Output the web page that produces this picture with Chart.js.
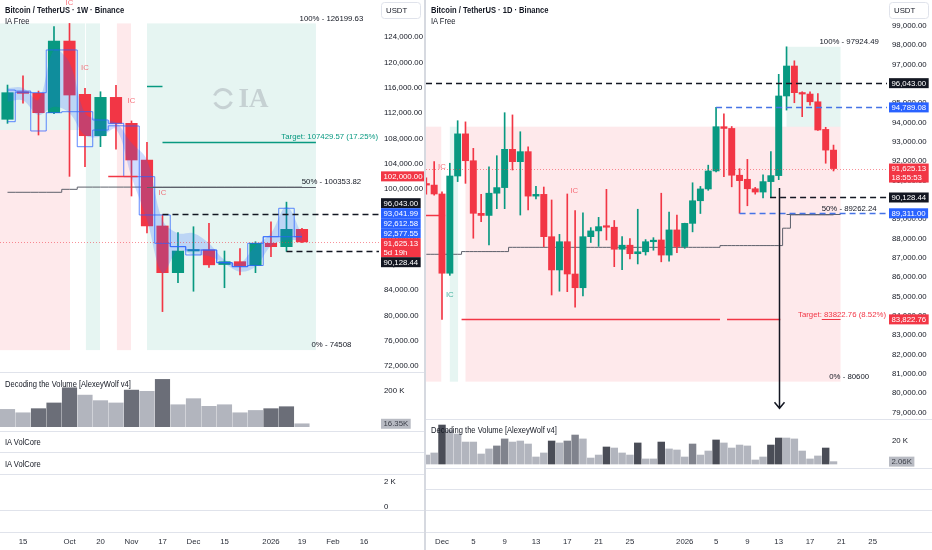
<!DOCTYPE html>
<html>
<head>
<meta charset="utf-8">
<title>BTCUSDT weekly / daily</title>
<script src="https://cdn.jsdelivr.net/npm/chart.js@4.4.1/dist/chart.umd.min.js"></script>
<style>
  body { margin: 0; width: 932px; height: 550px; background: #fff; position: relative; overflow: hidden;
         font-family: "Liberation Sans", Arial, sans-serif; color: #131722; }
  canvas { position: absolute; }
  .lbl { position: absolute; font-size: 9px; line-height: 11px; white-space: nowrap;
         transform: scaleX(0.84); transform-origin: left center; }
  .ttl { font-weight: bold; }
  .sep { position: absolute; height: 1px; background: #e0e3eb; }
</style>
</head>
<body>
<canvas id="wkMain" width="424" height="372" style="left:0px;top:0px"></canvas>
<canvas id="wkVol" width="424" height="59" style="left:0px;top:373px"></canvas>
<canvas id="wkCore" width="424" height="75" style="left:0px;top:475px"></canvas>
<canvas id="dyMain" width="506" height="419" style="left:426px;top:0px"></canvas>
<canvas id="dyVol" width="506" height="130" style="left:426px;top:420px"></canvas>

<div class="sep" style="left:0;top:372px;width:424px"></div>
<div class="sep" style="left:0;top:431px;width:424px"></div>
<div class="sep" style="left:0;top:452px;width:424px"></div>
<div class="sep" style="left:0;top:474px;width:424px"></div>
<div class="sep" style="left:0;top:510px;width:424px"></div>
<div class="sep" style="left:0;top:532px;width:424px"></div>
<div class="sep" style="left:426px;top:419px;width:506px"></div>
<div class="sep" style="left:426px;top:468px;width:506px"></div>
<div class="sep" style="left:426px;top:489px;width:506px"></div>
<div class="sep" style="left:426px;top:510px;width:506px"></div>
<div class="sep" style="left:426px;top:532px;width:506px"></div>
<div class="sep" style="left:424px;top:0;width:2px;height:550px;background:#d6d9e0"></div>

<div class="lbl ttl" style="left:5px;top:5px">Bitcoin / TetherUS · 1W · Binance</div>
<div class="lbl" style="left:5px;top:15.5px">IA Free</div>
<div class="lbl ttl" style="left:431px;top:5px">Bitcoin / TetherUS · 1D · Binance</div>
<div class="lbl" style="left:431px;top:15.5px">IA Free</div>
<div class="lbl" style="left:5px;top:378.5px">Decoding the Volume [AlexeyWolf v4]</div>
<div class="lbl" style="left:5px;top:436.5px">IA VolCore</div>
<div class="lbl" style="left:5px;top:458.5px">IA VolCore</div>
<div class="lbl" style="left:431px;top:424.5px">Decoding the Volume [AlexeyWolf v4]</div>

<script>
// ---- left panel: BTCUSDT weekly candles, week of Sep 8 2025 .. week of Jan 19 2026
const weeks = ['Sep 8','Sep 15','Sep 22','Sep 29','Oct 6','Oct 13','Oct 20','Oct 27','Nov 3','Nov 10',
  'Nov 17','Nov 24','Dec 1','Dec 8','Dec 15','Dec 22','Dec 29','Jan 5','Jan 12','Jan 19'];
const wOpen  = [111030,115240,115140,112070,123410,114980,108430,114500,110390,104590,94150,86760,90190,90350,88050,88500,87900,91410,90870,93620];
const wHigh  = [116450,117900,115500,125700,126199.63,115930,115390,116400,110770,107400,95880,93090,94030,94570,90190,90590,91660,94789,97924,93760];
const wLow   = [110390,113600,108540,111900,102000,103530,106700,106300,98890,93040,80600,85180,83822,87580,84380,86400,86760,89311,90128,91500];
const wClose = [115240,115140,112070,123410,114870,108430,114500,110390,104590,94150,86760,90190,90350,88000,88500,87820,91410,90870,93620,91625.13];
// IA channel band and box outline around the weekly candles
const wBandHi = [116000,116000,114100,122000,120000,112000,111000,110500,107300,104600,95100,93000,93000,91400,88800,88300,91000,93000,97200,92800];
const wBandLo = [113800,114000,111700,113000,112000,108500,108300,109500,101900,95100,86700,90300,89560,89400,88200,86900,87700,91000,91930,91800];
const wBoxTop = [115660,115500,115240,122000,122000,112230,110920,110390,109970,101950,95890,90880,90350,90350,88340,87710,91410,92450,96950,92450];
const wBoxBot = [110650,115300,109180,112070,112230,106690,109330,110000,101950,95890,91410,90880,89560,90350,88340,87710,87900,92450,92450,92450];
const wBase   = [99480,99480,99480,99480,99950,100300,100300,100300,100300,100300,100300,100300,100300,100300,100300,100300,100300,100300,100300,100300];
// volume in thousands, tone 0 = light, 1 = dark
const wVol     = [97,78,101,133,218,177,146,133,205,198,265,123,157,114,123,78,91,101,112,16.35];
const wVolTone = [0,0,1,1,1,0,0,0,1,0,1,0,0,0,0,0,0,1,1,0];
const wPriceTicks = [72000,76000,80000,84000,88000,92000,96000,100000,104000,108000,112000,116000,120000,124000,128000];
const wDateTickAt   = [1,4,6,8,10,12,14,17,19,21,23];
const wDateTickText = ['15','Oct','20','Nov','17','Dec','15','2026','19','Feb','16'];

// ---- right panel: BTCUSDT daily candles, Nov 29 2025 .. Jan 20 2026
const days = ['Nov 29','Nov 30','Dec 1','Dec 2','Dec 3','Dec 4','Dec 5','Dec 6','Dec 7','Dec 8','Dec 9','Dec 10',
  'Dec 11','Dec 12','Dec 13','Dec 14','Dec 15','Dec 16','Dec 17','Dec 18','Dec 19','Dec 20','Dec 21','Dec 22',
  'Dec 23','Dec 24','Dec 25','Dec 26','Dec 27','Dec 28','Dec 29','Dec 30','Dec 31','Jan 1','Jan 2','Jan 3',
  'Jan 4','Jan 5','Jan 6','Jan 7','Jan 8','Jan 9','Jan 10','Jan 11','Jan 12','Jan 13','Jan 14','Jan 15',
  'Jan 16','Jan 17','Jan 18','Jan 19','Jan 20'];
const dOpen  = [90850,90770,90310,86210,91240,93420,92030,89310,89200,90350,90640,92620,91980,92500,90200,90290,
  88100,86380,87840,86170,85460,88100,88400,88620,88590,87450,87660,87220,87320,87840,87930,87150,88450,87590,
  88790,89960,90570,91500,93790,93700,91280,91070,90580,90410,90950,91260,95380,96930,95550,95480,95080,93650,92580];
const dHigh  = [91150,91980,90420,91900,94100,94040,92670,90290,91720,92290,94515,94400,93530,92750,90700,90670,
  90000,88220,90310,89450,89340,88570,89100,90550,88940,88100,88000,89520,87950,88050,90350,89370,89220,88800,
  90890,90700,91800,94789,94450,93800,91620,92100,90650,91300,92500,96500,97924,97200,95600,95600,95500,93760,92840];
const dLow   = [90300,90250,83822,86100,90950,90860,88020,88880,87670,89550,89550,91550,89220,89480,90050,87580,
  85085,85280,85255,84450,85030,87800,87600,87930,86550,86400,86950,86690,87150,87400,86800,86830,87280,87500,
  88350,89300,90500,91450,91200,90680,89311,89700,90300,90100,90128,91050,94650,95030,94310,94900,93600,91900,91500];
const dClose = [90770,90310,86210,91240,93420,92030,89310,89200,90350,90640,92620,91980,92500,90200,90290,88100,
  86380,87840,86170,85460,88100,88400,88620,88590,87450,87660,87220,87320,87840,87920,87150,88450,87590,88790,
  89960,90570,91500,93790,93700,91280,91000,90580,90410,90950,91260,95380,96930,95550,95480,95080,93620,92580,91625.13];
const dBase  = [87190,87190,87190,87190,87190,87330,87330,87330,87330,87330,87330,87550,87550,87550,87550,87550,
  87550,87550,87550,87550,87550,87550,87550,87550,87550,87550,87550,87550,87550,87550,87550,87550,87550,87550,
  87550,87550,87550,87550,87640,87640,87640,87640,87640,87640,87640,87640,88540,89230,89230,89230,89230,89230,89230];
// volume in thousands, tone 0 = light, 1 = medium, 2 = dark
const dVol = [7.8,9.6,33.9,29.6,26.1,19.1,19.1,8.7,13.1,15.7,21.8,19.1,20.0,17.4,6.1,9.6,20.0,18.3,20.0,25.2,21.8,
  5.2,7.8,14.8,13.9,9.6,7.8,18.3,4.4,4.4,19.1,13.1,12.2,6.1,17.4,7.8,11.3,20.9,18.3,13.9,16.5,15.7,3.5,6.1,16.5,
  22.6,22.6,21.8,11.3,4.4,7.0,13.9,2.06];
const dVolTone = [0,0,2,0,0,0,0,0,0,1,1,0,0,0,0,0,2,0,1,1,0,0,0,2,0,0,0,2,0,0,2,0,0,0,1,0,0,2,0,0,0,0,0,0,2,2,0,0,0,0,0,2,0];
const dPriceTicks = [79000,80000,81000,82000,83000,84000,85000,86000,87000,88000,89000,90000,91000,92000,93000,94000,95000,96000,97000,98000,99000,100000];
const dDateTickAt   = [0,4,8,12,16,20,24,31,35,39,43,47,51,55];
const dDateTickText = ['Dec','5','9','13','17','21','25','2026','5','9','13','17','21','25'];

const GREEN = '#089981', RED = '#f23645', BLUE = '#2962ff', INK = '#131722';
const DASHBLUE = '#4673e6', GRAYLINE = '#5d606b';
const ZONE_G = 'rgba(8,153,129,0.10)', ZONE_R = 'rgba(242,54,69,0.11)';
const IC_R = 'rgba(242,54,69,0.7)', IC_G = 'rgba(8,153,129,0.75)';
const FONT = '"Liberation Sans", Arial, sans-serif';
const FS = 7.8;

Chart.defaults.font.family = FONT;
Chart.defaults.font.size = FS;
Chart.defaults.color = INK;
Chart.defaults.animation = false;
Chart.defaults.responsive = false;
Chart.defaults.plugins.legend.display = false;
Chart.defaults.plugins.tooltip.enabled = false;

const money = v => v.toLocaleString('en-US', {minimumFractionDigits: 2, maximumFractionDigits: 2});

function priceAxis(min, max, vals, fmt) {
  return {
    position: 'right', min: min, max: max,
    grid: {display: false, drawTicks: false}, border: {display: false},
    afterBuildTicks: ax => { ax.ticks = vals.filter(v => v >= min && v <= max).map(v => ({value: v})); },
    ticks: {padding: 5, autoSkip: false, callback: fmt},
    afterFit: ax => { ax.width = 45; ax.paddingTop = 0; ax.paddingBottom = 0; }
  };
}

function timeAxis(min, max, at, text) {
  if (!at) return {type: 'linear', min: min, max: max, offset: false, display: false};
  return {
    type: 'linear', min: min, max: max, offset: false,
    grid: {display: false, drawTicks: false, offset: false}, border: {display: false},
    afterBuildTicks: ax => { ax.ticks = at.map(v => ({value: v})); },
    ticks: {padding: 5, autoSkip: false, maxRotation: 0, color: '#2a2e39', callback: v => text[at.indexOf(v)]},
    afterFit: ax => { ax.height = 18; ax.paddingLeft = 0; ax.paddingRight = 0; }
  };
}

// candles as two floating bar sets: thin wick (low..high) and body (open..close)
function candles(xs, o, h, l, c, bodyW) {
  const col = c.map((v, k) => v >= o[k] ? GREEN : RED);
  return [
    {data: xs.map((x, k) => ({x: x, y: [l[k], h[k]]})), backgroundColor: col, barThickness: 1, grouped: false, order: 3},
    {data: xs.map((x, k) => ({x: x, y: [o[k], c[k]]})), backgroundColor: col, barThickness: bodyW, grouped: false, minBarLength: 1.5, order: 2}
  ];
}

function line(xs, vals, color, width, extra) {
  return Object.assign({type: 'line', data: xs.map((x, k) => ({x: x, y: vals[k]})), borderColor: color,
    borderWidth: width, pointRadius: 0, fill: false}, extra);
}

// price tags on the axis; colliding tags are stacked and centred on the span they cover
function drawTags(ctx, ax, tags) {
  const items = tags.map(t => ({t: t, h: t.sub ? 19 : 10, want: ax.getPixelForValue(t.p) - 5}));
  items.sort((a, b) => a.want - b.want);
  const place = g => {
    const first = g.items[0], last = g.items[g.items.length - 1];
    g.h = g.items.reduce((s, it) => s + it.h, 0);
    g.top = g.items.length === 1 ? first.want : (first.want + last.want + last.h) / 2 - g.h / 2;
  };
  const groups = items.map(it => ({items: [it]}));
  groups.forEach(place);
  for (let k = 0; k < groups.length - 1;) {
    if (groups[k].top + groups[k].h > groups[k + 1].top) {
      groups[k].items = groups[k].items.concat(groups[k + 1].items);
      groups.splice(k + 1, 1);
      place(groups[k]);
      k = Math.max(0, k - 1);
    } else k++;
  }
  ctx.font = FS + 'px ' + FONT;
  ctx.textAlign = 'left';
  ctx.textBaseline = 'middle';
  groups.forEach(g => {
    let top = g.top;
    g.items.forEach(it => {
      const t = it.t, text = t.text || money(t.p);
      const w = Math.max(ctx.measureText(text).width, t.sub ? ctx.measureText(t.sub).width : 0) + 5;
      ctx.fillStyle = t.bg;
      ctx.fillRect(ax.left + 2, top, w, it.h);
      ctx.fillStyle = t.fg || '#fff';
      ctx.fillText(text, ax.left + 4.5, top + 5.5);
      if (t.sub) ctx.fillText(t.sub, ax.left + 4.5, top + 14.5);
      top += it.h;
    });
  });
}

function overlay(spec) {
  return {
    id: 'overlay',
    beforeDatasetsDraw(chart) {
      const {ctx, chartArea: a, scales: {x, y}} = chart;
      ctx.save();
      ctx.beginPath(); ctx.rect(a.left, a.top, a.width, a.height); ctx.clip();
      (spec.zones || []).forEach(z => {
        const x0 = x.getPixelForValue(z.from), x1 = x.getPixelForValue(z.to);
        const y0 = y.getPixelForValue(z.hi), y1 = y.getPixelForValue(z.lo);
        ctx.fillStyle = z.color;
        ctx.fillRect(x0, y0, x1 - x0, y1 - y0);
      });
      if (spec.logo) spec.logo(ctx, x, y);
      ctx.restore();
    },
    afterDatasetsDraw(chart) {
      const {ctx, chartArea: a, scales: {x, y}} = chart;
      ctx.save();
      ctx.beginPath(); ctx.rect(a.left, a.top, a.width, a.height); ctx.clip();
      (spec.levels || []).forEach(l => {
        const yy = Math.round(y.getPixelForValue(l.p)) + 0.5;
        ctx.setLineDash(l.dash || []);
        ctx.strokeStyle = l.color;
        ctx.lineWidth = l.width || 1;
        ctx.beginPath();
        ctx.moveTo(l.from == null ? a.left : x.getPixelForValue(l.from), yy);
        ctx.lineTo(l.to == null ? a.right : x.getPixelForValue(l.to), yy);
        ctx.stroke();
      });
      ctx.setLineDash([]);
      if (spec.arrow) {
        const r = spec.arrow, xx = Math.round(x.getPixelForValue(r.at)) + 0.5;
        const y0 = y.getPixelForValue(r.from), y1 = y.getPixelForValue(r.to);
        ctx.strokeStyle = INK; ctx.lineWidth = 1.5;
        ctx.beginPath();
        ctx.moveTo(xx, y0); ctx.lineTo(xx, y1);
        ctx.moveTo(xx - 5, y1 - 6); ctx.lineTo(xx, y1); ctx.lineTo(xx + 5, y1 - 6);
        ctx.stroke();
      }
      (spec.notes || []).forEach(n => {
        ctx.font = (n.size || FS) + 'px ' + FONT;
        ctx.fillStyle = n.color || INK;
        ctx.textAlign = n.align || 'center';
        ctx.textBaseline = n.base || 'middle';
        const xx = n.at == null ? a.right - 1 : x.getPixelForValue(n.at);
        ctx.fillText(n.text, xx, y.getPixelForValue(n.p) + (n.dy || 0));
      });
      ctx.restore();
    },
    afterDraw(chart) {
      const {ctx, scales: {y}} = chart;
      ctx.save();
      if (spec.tags) drawTags(ctx, y, spec.tags);
      if (spec.unit) {
        ctx.fillStyle = '#fff';
        ctx.fillRect(y.left, 0, y.width, 21);
        ctx.strokeStyle = '#e0e3eb'; ctx.lineWidth = 1;
        ctx.beginPath(); ctx.roundRect(y.left + 2.5, 2.5, y.width - 6, 16, 3); ctx.fill(); ctx.stroke();
        ctx.fillStyle = INK; ctx.font = FS + 'px ' + FONT;
        ctx.textAlign = 'left'; ctx.textBaseline = 'middle';
        ctx.fillText(spec.unit, y.left + 7, 11);
      }
      ctx.restore();
    }
  };
}

// ---------------- weekly chart ----------------
const wkX = weeks.map((_, k) => k);
const WK_MIN = -0.484, WK_MAX = 23.97;

new Chart(document.getElementById('wkMain'), {
  type: 'bar',
  data: {datasets: [
    ...candles(wkX, wOpen, wHigh, wLow, wClose, 11.5),
    line(wkX, wBandHi, 'rgba(0,0,0,0)', 0, {fill: '+1', backgroundColor: 'rgba(41,98,255,0.22)', tension: 0.35, order: 1}),
    line(wkX, wBandLo, 'rgba(0,0,0,0)', 0, {tension: 0.35, order: 1}),
    line(wkX, wBoxTop, 'rgba(41,98,255,0.75)', 1, {stepped: 'middle', order: 0}),
    line(wkX, wBoxBot, 'rgba(41,98,255,0.75)', 1, {stepped: 'middle', order: 0}),
    line(wkX, wBase, GRAYLINE, 1, {stepped: 'middle', order: 4})
  ]},
  options: {scales: {x: timeAxis(WK_MIN, WK_MAX), y: priceAxis(71044, 129905, wPriceTicks, money)}},
  plugins: [overlay({
    unit: 'USDT',
    zones: [
      {from: -0.49, to: 5.0, lo: 109330, hi: 126199.63, color: ZONE_G},
      {from: -0.49, to: 4.03, lo: 74508, hi: 109330, color: ZONE_R},
      {from: 5.06, to: 5.97, lo: 74508, hi: 126199.63, color: ZONE_G},
      {from: 7.06, to: 7.97, lo: 74508, hi: 126199.63, color: ZONE_R},
      {from: 9.0, to: 19.9, lo: 74508, hi: 126199.63, color: ZONE_G}
    ],
    logo: (ctx, x, y) => {
      const cx = x.getPixelForValue(13.9), cy = y.getPixelForValue(114300);
      ctx.strokeStyle = 'rgba(150,155,165,0.4)'; ctx.lineWidth = 3;
      ctx.beginPath(); ctx.arc(cx, cy, 9, 0.35, 2.7); ctx.stroke();
      ctx.beginPath(); ctx.arc(cx, cy, 9, 3.5, 5.9); ctx.stroke();
      ctx.fillStyle = 'rgba(150,155,165,0.4)';
      ctx.font = 'bold 27px "Liberation Serif", serif';
      ctx.textAlign = 'left'; ctx.textBaseline = 'middle';
      ctx.fillText('IA', x.getPixelForValue(14.9), cy + 1);
    },
    levels: [
      {p: 116350, from: 9, to: 10, color: GREEN, width: 1.5},
      {p: 107429.57, from: 10, to: 19.9, color: GREEN, width: 1.5},
      {p: 102050, from: 6.5, to: 8.4, color: RED, width: 1.5},
      {p: 100353.82, from: 9, to: 19.9, color: GRAYLINE},
      {p: 91625.13, color: 'rgba(242,54,69,0.55)', dash: [1, 2]},
      {p: 96043, from: 10, color: INK, width: 1.5, dash: [6, 4]},
      {p: 90128.44, from: 18, color: INK, width: 1.5, dash: [6, 4]}
    ],
    notes: [
      {text: '100% - 126199.63', at: 20.9, p: 126199.63, base: 'bottom', dy: -1},
      {text: '50% - 100353.82', at: 20.9, p: 100353.82, base: 'bottom', dy: -1},
      {text: '0% - 74508', at: 20.9, p: 74508, base: 'bottom', dy: -1},
      {text: 'Target: 107429.57 (17.25%)', p: 107429.57, align: 'right', base: 'bottom', dy: -1, color: GREEN},
      {text: 'IC', at: 4, p: 129400, color: IC_R},
      {text: 'IC', at: 5, p: 119140, color: IC_R},
      {text: 'IC', at: 8, p: 113900, color: IC_R},
      {text: 'IC', at: 10, p: 99400, color: IC_R}
    ],
    tags: [
      {p: 102000, bg: RED},
      {p: 96043, bg: INK},
      {p: 93041.99, bg: BLUE},
      {p: 92612.58, bg: BLUE},
      {p: 92577.55, bg: BLUE},
      {p: 91625.13, sub: '5d 19h', bg: RED},
      {p: 90128.44, bg: INK}
    ]
  })]
});

const WK_TONES = ['#b2b5be', '#6b6e78'];
new Chart(document.getElementById('wkVol'), {
  type: 'bar',
  data: {datasets: [{data: wkX.map((x, k) => ({x: x, y: wVol[k]})), backgroundColor: wVolTone.map(t => WK_TONES[t]),
    barThickness: 14.5}]},
  options: {scales: {x: timeAxis(WK_MIN, WK_MAX), y: priceAxis(-29.7, 300.8, [200], v => v + ' K')}},
  plugins: [overlay({tags: [{p: wVol[wVol.length - 1], text: '16.35K', bg: '#b8bbc3', fg: '#3b3e48'}]})]
});

new Chart(document.getElementById('wkCore'), {
  type: 'bar',
  data: {datasets: []},
  options: {scales: {x: timeAxis(WK_MIN, WK_MAX, wDateTickAt, wDateTickText),
    y: priceAxis(-1.976, 2.53, [0, 2], v => v ? v + ' K' : '0')}}
});

// ---------------- daily chart ----------------
const dyX = days.map((_, k) => k - 2);   // Dec 1 = 0
const DY_MIN = -2.043, DY_MAX = 56.83;

new Chart(document.getElementById('dyMain'), {
  type: 'bar',
  data: {datasets: [
    ...candles(dyX, dOpen, dHigh, dLow, dClose, 6.3),
    line(dyX, dBase, GRAYLINE, 1, {stepped: 'middle', order: 4})
  ]},
  options: {scales: {x: timeAxis(DY_MIN, DY_MAX), y: priceAxis(78669, 100345, dPriceTicks, money)}},
  plugins: [overlay({
    unit: 'USDT',
    zones: [
      {from: -2.1, to: -0.1, lo: 80600, hi: 93790, color: ZONE_R},
      {from: 1.0, to: 2.05, lo: 80600, hi: 93790, color: ZONE_G},
      {from: 3.0, to: 50.9, lo: 80600, hi: 93790, color: ZONE_R},
      {from: 44.0, to: 50.9, lo: 93790, hi: 97924.49, color: ZONE_G}
    ],
    levels: [
      {p: 89230, from: -2.1, to: 0.4, color: RED, width: 1.5},
      {p: 83822.76, from: 2.5, to: 35.5, color: RED, width: 1.5},
      {p: 83822.76, from: 36.4, to: 43.2, color: RED, width: 1.5},
      {p: 83822.76, from: 48.5, to: 50.9, color: RED, width: 1},
      {p: 89262.24, from: 44, to: 50.9, color: GRAYLINE},
      {p: 91625.13, color: 'rgba(242,54,69,0.55)', dash: [1, 2]},
      {p: 96043, color: INK, width: 1.5, dash: [6, 4]},
      {p: 94789.08, from: 35, color: DASHBLUE, width: 1.5, dash: [6, 4]},
      {p: 90128.44, from: 41.9, color: INK, width: 1.5, dash: [6, 4]},
      {p: 89311, from: 38, color: DASHBLUE, width: 1.5, dash: [6, 4]}
    ],
    arrow: {at: 43, from: 90620, to: 79220},
    notes: [
      {text: '100% - 97924.49', at: 52, p: 97924.49, base: 'bottom', dy: -1},
      {text: '50% - 89262.24', at: 52, p: 89262.24, base: 'bottom', dy: -1},
      {text: '0% - 80600', at: 52, p: 80600, base: 'bottom', dy: -1},
      {text: 'Target: 83822.76 (8.52%)', p: 83822.76, align: 'right', base: 'bottom', dy: -1, color: RED},
      {text: 'IC', at: 0, p: 91720, color: IC_R},
      {text: 'IC', at: 16.9, p: 90480, color: IC_R},
      {text: 'IC', at: 1.0, p: 85085, color: IC_G}
    ],
    tags: [
      {p: 96043, bg: INK},
      {p: 94789.08, bg: BLUE},
      {p: 91625.13, sub: '18:55:53', bg: RED},
      {p: 90128.44, bg: INK},
      {p: 89311, bg: BLUE},
      {p: 83822.76, bg: RED}
    ]
  })]
});

const DY_TONES = ['#b2b5be', '#80838d', '#4a4d57'];
new Chart(document.getElementById('dyVol'), {
  type: 'bar',
  data: {datasets: [{data: dyX.map((x, k) => ({x: x, y: dVol[k]})), backgroundColor: dVolTone.map(t => DY_TONES[t]),
    barThickness: 6.8}]},
  options: {scales: {x: timeAxis(DY_MIN, DY_MAX, dDateTickAt, dDateTickText),
    y: priceAxis(-59.1, 38.26, [20], v => v + ' K')}},
  plugins: [overlay({tags: [{p: dVol[dVol.length - 1], text: '2.06K', bg: '#b8bbc3', fg: '#3b3e48'}]})]
});
</script>
</body>
</html>
